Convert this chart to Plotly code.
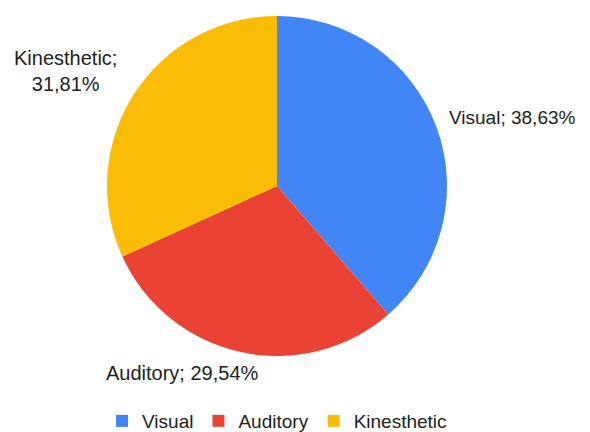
import math
import plotly.graph_objects as go

labels = ["Visual", "Auditory", "Kinesthetic"]
values = [38.63, 29.54, 31.81]
value_text = ["38,63%", "29,54%", "31,81%"]
colors = ["#4285F4", "#EA4335", "#FBBC05"]

W, H = 590, 432
FONT = "Liberation Sans, Arial, sans-serif"
cx, cy, r = 269, 178, 170  # pie centre / radius in paper pixels

fig = go.Figure(go.Pie(
    labels=labels,
    values=values,
    textinfo="none",
    sort=False,
    direction="clockwise",
    rotation=0,
    marker=dict(colors=colors, line=dict(width=0)),
    domain=dict(x=[(cx - r) / W, (cx + r) / W], y=[(H - cy - r) / H, (H - cy + r) / H]),
    hoverinfo="label+percent",
))

# label placement: offsets (px) from each slice's outer mid-point
label_style = {
    "Visual": dict(dx=11, dy=-9, xanchor="left", br=False, size=19),
    "Auditory": dict(dx=20, dy=21, xanchor="right", br=False, size=20),
    "Kinesthetic": dict(dx=-68, dy=-23, xanchor="center", br=True, size=20),
}
total = sum(values)
cum = 0.0
for lab, val, vt in zip(labels, values, value_text):
    mid = (cum + val / 2) / total * 2 * math.pi
    cum += val
    ex = cx + r * math.sin(mid)
    ey = cy - r * math.cos(mid)
    st = label_style[lab]
    txt = f"{lab};<br>{vt}" if st["br"] else f"{lab}; {vt}"
    fig.add_annotation(
        x=(ex + st["dx"]) / W, y=1 - (ey + st["dy"]) / H,
        xref="paper", yref="paper",
        text=txt, showarrow=False,
        xanchor=st["xanchor"], yanchor="middle", align="center",
        font=dict(family=FONT, size=st["size"], color="#222222"),
    )

fig.update_layout(
    width=W, height=H,
    margin=dict(l=0, r=0, t=0, b=0),
    paper_bgcolor="white",
    plot_bgcolor="white",
    showlegend=True,
    legend=dict(
        orientation="h", x=0.456, xanchor="center", y=0.0, yanchor="bottom",
        font=dict(family=FONT, size=19, color="#222222"),
        traceorder="normal",
        itemwidth=30,
    ),
)

fig.write_html("out.html")
